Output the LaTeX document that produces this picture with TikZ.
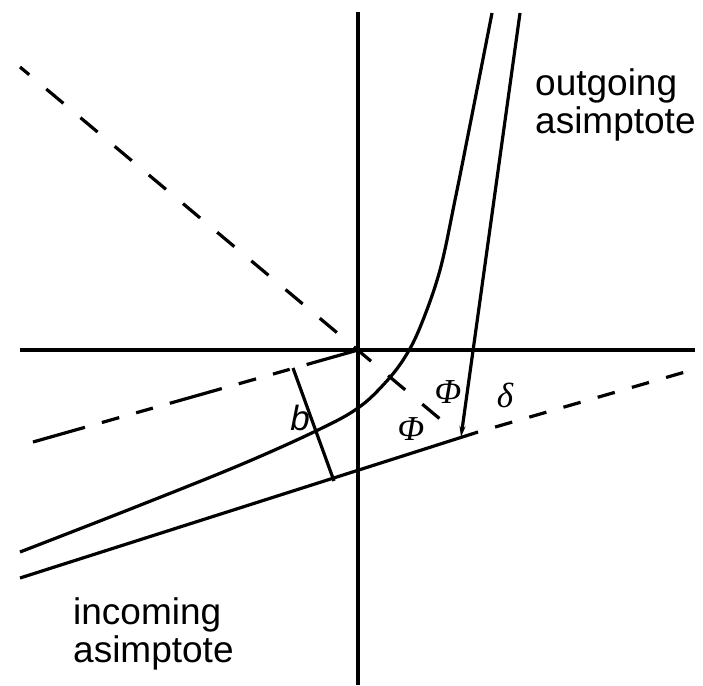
\documentclass[tikz,border=0pt]{standalone}
\usepackage{fontspec}
\setmainfont{Liberation Sans}
\newfontfamily\grk{Liberation Serif}
\usetikzlibrary{arrows.meta}
\begin{document}
\begin{tikzpicture}[x=1pt,y=-1pt,
  ln/.style={line width=3.2pt},
  diagdash/.style={ln, dash pattern=on 22.3pt off 22.3pt, dash phase=10.3pt},
  asydash/.style={ln, dash pattern=on 54pt off 17.6pt on 18pt off 17.6pt on 17.4pt off 17.6pt},
  extdash/.style={ln, dash pattern=on 17.8pt off 17.8pt, dash phase=17.8pt},
  lbl/.style={inner sep=0pt, font=\fontsize{37}{38}\selectfont, align=left, anchor=base west},
  sym/.style={inner sep=0pt, font=\fontsize{35}{36}\selectfont}
]
\useasboundingbox (0,0) rectangle (703,685);
% coordinates
\coordinate (O) at (358,350);
\coordinate (xl) at (20,350);
\coordinate (xr) at (695,350);
\coordinate (yt) at (358,12);
\coordinate (yb) at (358,685);
\coordinate (d1) at (20,67);
\coordinate (d2) at (440,419);
\coordinate (a1) at (33,442);
\coordinate (in1) at (20,578);
\coordinate (in2) at (478,432);
\coordinate (in3) at (685,372);
\coordinate (out1) at (520,13);
\coordinate (tip) at (461,437);
\coordinate (b1) at (293,368);
\coordinate (b2) at (334,481);
% axes
\draw[ln] (xl) -- (xr);
\draw[ln] (yt) -- (yb);
% symmetry axis
\draw[diagdash] (d1) -- (d2);
% incoming asymptote shifted through origin
\draw[asydash] (a1) -- (O);
% incoming asymptote
\draw[ln] (in1) -- (in2);
\draw[extdash] (in2) -- (in3);
% outgoing asymptote
\draw[ln, -{Stealth[length=11pt,width=6pt]}] (out1) -- (tip);
% impact parameter
\draw[ln] (b1) -- (b2);
% trajectory
\draw[ln] plot[smooth, tension=0.6] coordinates {(492,13) (470,125) (455,200) (440,270) (421,325) (405,357) (385,383) (358,408) (318,430) (240,465) (133,508) (20,552)};
% labels
\node[sym] (lb) at (300,418) {\itshape b};
\node[sym] (phi1) at (448,392) {\grk\itshape Φ};
\node[sym] (phi2) at (411,429) {\grk\itshape Φ};
\node[sym] (dl) at (505,395) {\grk\itshape δ};
\node[lbl] (out) at (535,133) {outgoing\\asimptote};
\node[lbl] (inc) at (73,662) {incoming\\asimptote};
\end{tikzpicture}
\end{document}
